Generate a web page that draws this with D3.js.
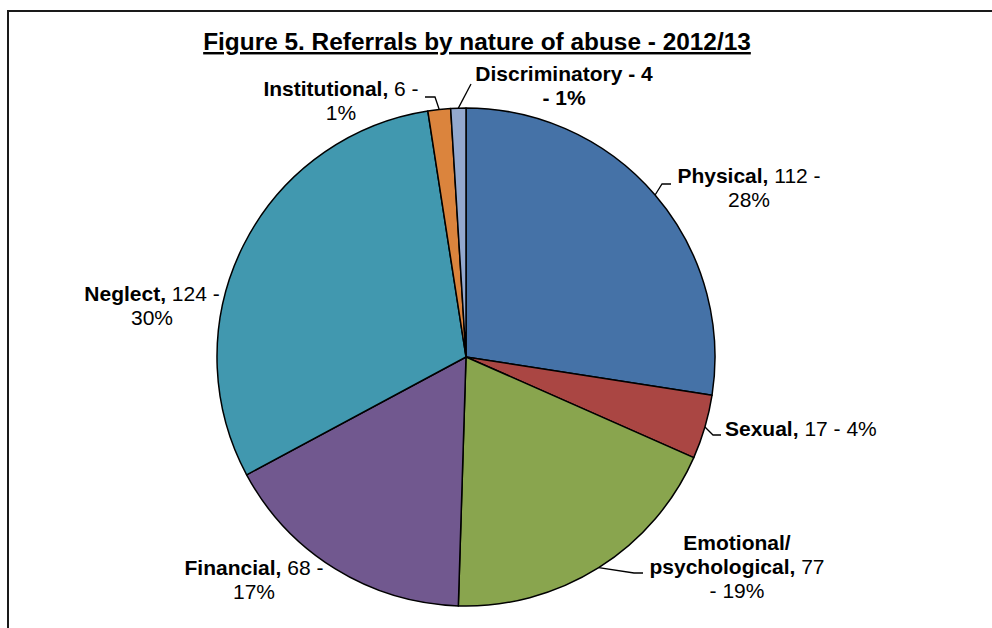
<!DOCTYPE html>
<html>
<head>
<meta charset="utf-8">
<script src="https://cdn.jsdelivr.net/npm/d3@7"></script>
<style>
  html, body { margin: 0; padding: 0; background: #fff; }
  svg { display: block; }
  text { font-family: "Liberation Sans", Arial, sans-serif; fill: #000; }
</style>
</head>
<body>
<svg id="chart" width="992" height="628"></svg>
<script>
// Referrals by nature of abuse, 2012/13
const categories = ["Physical", "Sexual", "Emotional/ psychological", "Financial", "Neglect", "Institutional", "Discriminatory"];
const values = [112, 17, 77, 68, 124, 6, 4];
const percentLabels = ["28%", "4%", "19%", "17%", "30%", "1%", "1%"];
const colors = ["#4572A7", "#AA4643", "#89A54E", "#71588F", "#4198AF", "#DB843D", "#93A9CF"];
const titleText = "Figure 5. Referrals by nature of abuse - 2012/13";

// Label text, line by line; each segment is [text, bold]
const labelLines = [
  [[["Physical,", true], [" " + values[0] + " -", false]], [[percentLabels[0], false]]],
  [[["Sexual,", true], [" " + values[1] + " - " + percentLabels[1], false]]],
  [[["Emotional/", true]], [["psychological,", true], [" " + values[2], false]], [["- " + percentLabels[2], false]]],
  [[["Financial,", true], [" " + values[3] + " -", false]], [[percentLabels[3], false]]],
  [[["Neglect,", true], [" " + values[4] + " -", false]], [[percentLabels[4], false]]],
  [[["Institutional,", true], [" " + values[5] + " -", false]], [[percentLabels[5], false]]],
  [[["Discriminatory - " + values[6], true]], [["- " + percentLabels[6], true]]]
];

// Label placement: centre x, first baseline y, text anchor, leader elbow and end
const labelLayout = [
  { x: 749, y: 183, anchor: "middle", leader: [[662, 184], [671, 184]] },
  { x: 725, y: 436, anchor: "start",  leader: [[713, 435], [721, 435]] },
  { x: 737, y: 550, anchor: "middle", leader: [[634, 573], [643, 573]] },
  { x: 254, y: 575, anchor: "middle", leader: null },
  { x: 152, y: 301, anchor: "middle", leader: null },
  { x: 341, y: 96,  anchor: "middle", leader: [[435, 97], [425, 97]] },
  { x: 564, y: 81,  anchor: "middle", leader: [[471, 84]] }
];

const W = 992, H = 628;
const cx = 466, cy = 357, R = 249;
const lineH = 24;

const svg = d3.select("#chart");

// Outer frame (runs past the right and bottom edges)
svg.append("rect")
  .attr("x", 8).attr("y", 11)
  .attr("width", 1000).attr("height", 700)
  .attr("fill", "none").attr("stroke", "#1a1a1a").attr("stroke-width", 2);

// Title
svg.append("text")
  .attr("x", 477).attr("y", 50)
  .attr("text-anchor", "middle")
  .attr("font-size", "24.4px")
  .attr("font-weight", "bold")
  .attr("text-decoration", "underline")
  .text(titleText);

const data = categories.map((c, i) => ({ name: c, value: values[i], color: colors[i], idx: i }));

const pie = d3.pie().value(d => d.value).sort(null).startAngle(0).endAngle(2 * Math.PI);
const arcs = pie(data);

const arc = d3.arc().innerRadius(0).outerRadius(R);
const edge = d3.arc().innerRadius(R).outerRadius(R);

const g = svg.append("g").attr("transform", `translate(${cx},${cy})`);

g.selectAll("path.slice")
  .data(arcs)
  .join("path")
  .attr("class", "slice")
  .attr("d", arc)
  .attr("fill", d => d.data.color)
  .attr("stroke", "#000")
  .attr("stroke-width", 1.5)
  .attr("stroke-linejoin", "round");

// Leader lines from slice edge midpoints
arcs.forEach((a, i) => {
  const lay = labelLayout[i];
  if (!lay.leader) return;
  const [ex, ey] = edge.centroid(a);
  const pts = [[cx + ex, cy + ey], ...lay.leader];
  svg.append("path")
    .attr("d", d3.line()(pts))
    .attr("fill", "none")
    .attr("stroke", "#000")
    .attr("stroke-width", 1.3);
});

// Data labels
labelLines.forEach((lines, i) => {
  const lay = labelLayout[i];
  const t = svg.append("text")
    .attr("font-size", "21px")
    .attr("text-anchor", lay.anchor);
  lines.forEach((segs, li) => {
    segs.forEach((s, si) => {
      const ts = t.append("tspan")
        .attr("font-weight", s[1] ? "bold" : "normal")
        .style("white-space", "pre")
        .text(s[0]);
      if (si === 0) ts.attr("x", lay.x).attr("y", lay.y + li * lineH);
    });
  });
});
</script>
</body>
</html>
